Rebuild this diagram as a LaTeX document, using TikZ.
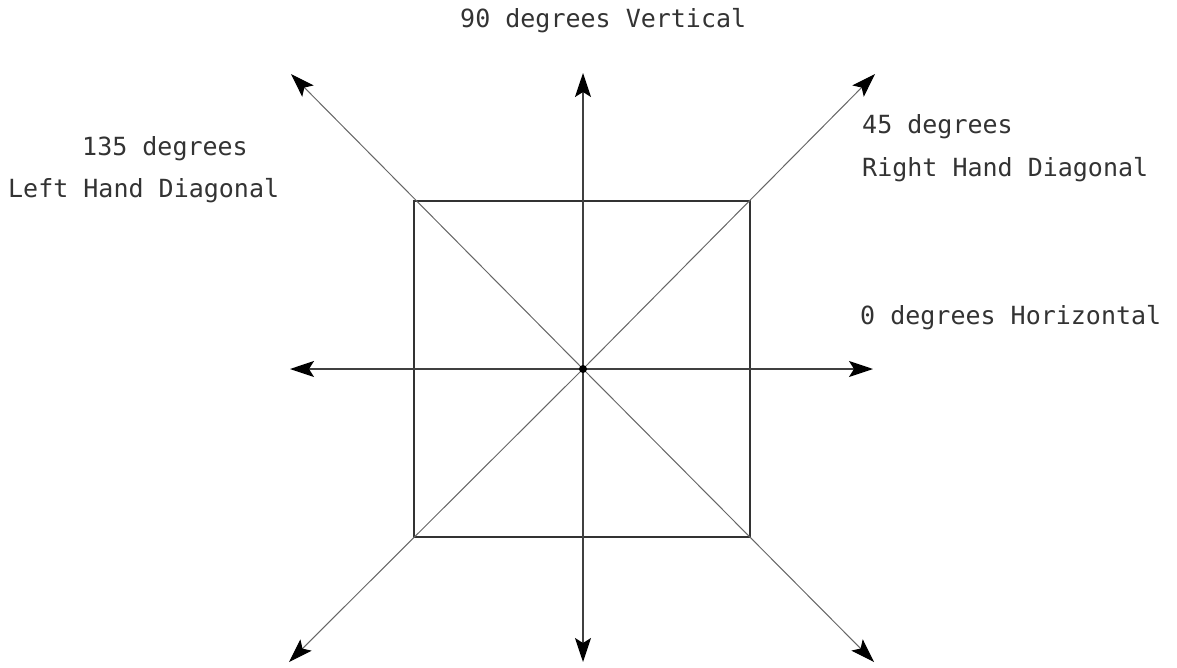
\documentclass[tikz,border=0pt]{standalone}
\usepackage{fontspec}
\setmonofont{DejaVu Sans Mono}
\usetikzlibrary{arrows.meta}
\tikzset{
  tip/.style={-{Stealth[length=24pt,width=16pt,inset=5pt,color=black]}},
  axisline/.style={line width=1.5pt, draw=black!75, tip},
  diagline/.style={line width=1pt, draw=black!60, tip},
  boxline/.style={line width=1.5pt, draw=black!80},
  lbl/.style={font=\ttfamily\fontsize{25}{30}\selectfont, text=black!80, inner sep=0pt, anchor=base west},
}
\begin{document}
\begin{tikzpicture}[x=1pt,y=-1pt]
\useasboundingbox (0,0) rectangle (1177,667);
\coordinate (O) at (583,369);
\coordinate (N) at (583,73);
\coordinate (S) at (583,662);
\coordinate (W) at (290,369);
\coordinate (E) at (873,369);
\coordinate (NW) at (291,74);
\coordinate (NE) at (875,74);
\coordinate (SW) at (289,662);
\coordinate (SE) at (874,662);
\coordinate (c1) at (414,201);
\coordinate (c2) at (750,201);
\coordinate (c3) at (750,537);
\coordinate (c4) at (414,537);
\draw[boxline] (c1) -- (c2) -- (c3) -- (c4) -- cycle;
\draw[diagline] (O) -- (NW);
\draw[diagline] (O) -- (NE);
\draw[diagline] (O) -- (SW);
\draw[diagline] (O) -- (SE);
\draw[axisline] (O) -- (N);
\draw[axisline] (O) -- (S);
\draw[axisline] (O) -- (W);
\draw[axisline] (O) -- (E);
\fill[black] (O) circle (4pt);
\node[lbl] (t90) at (460,27) {90 degrees Vertical};
\node[lbl] (t135) at (82,155) {135 degrees};
\node[lbl] (tlh) at (8,197) {Left Hand Diagonal};
\node[lbl] (t45) at (862,133) {45 degrees};
\node[lbl] (trh) at (862,176) {Right Hand Diagonal};
\node[lbl] (t0) at (860,324) {0 degrees Horizontal};
\end{tikzpicture}
\end{document}
